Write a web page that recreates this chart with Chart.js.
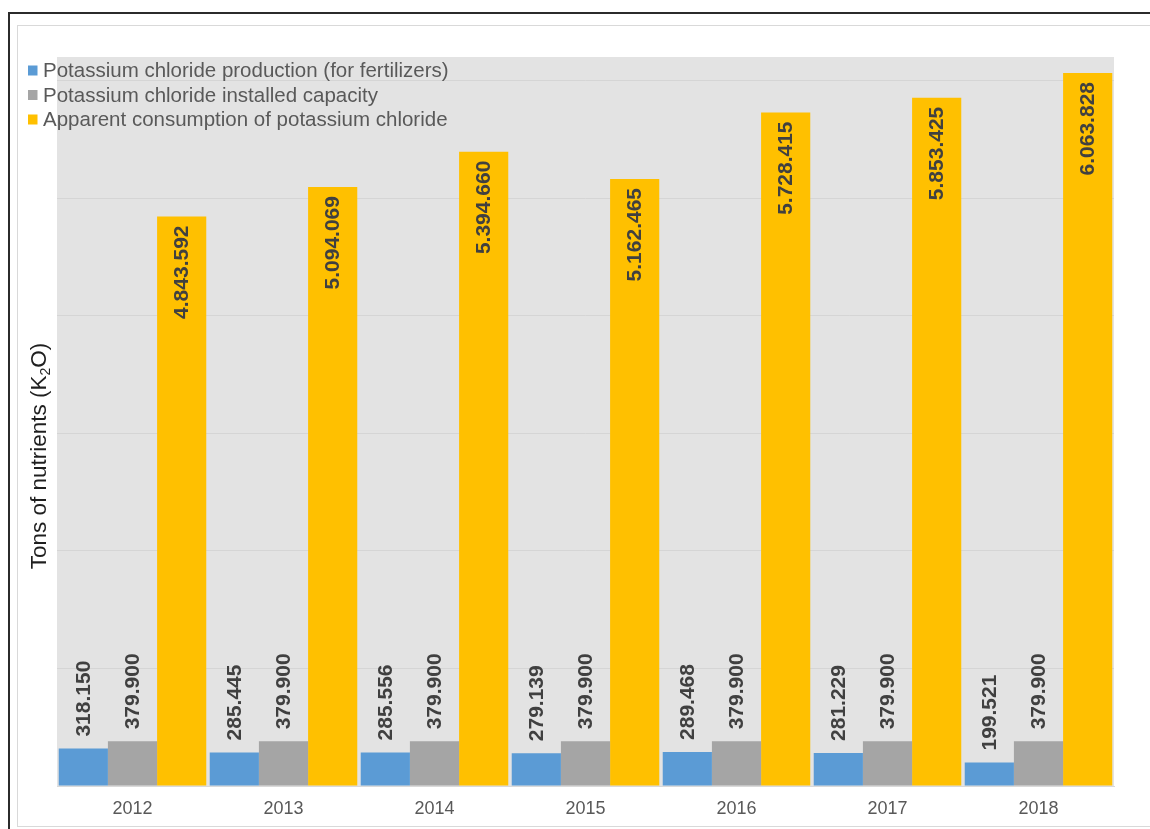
<!DOCTYPE html>
<html>
<head>
<meta charset="utf-8">
<script src="https://cdn.jsdelivr.net/npm/chart.js@4.4.1/dist/chart.umd.min.js"></script>
<style>
  html, body { margin: 0; padding: 0; background: #ffffff; overflow: hidden; }
  #wrap { position: relative; width: 1150px; height: 829px; }
  #outer { position: absolute; left: 8px; top: 12px; width: 1160px; height: 840px; border: 2px solid #2b2b2b; box-sizing: border-box; }
  #inner { position: absolute; left: 17px; top: 25px; width: 1150px; height: 802px; border: 1px solid #d9d9d9; border-right: none; box-sizing: border-box; }
  canvas { position: absolute; left: 0; top: 0; }
</style>
</head>
<body>
<div id="wrap">
  <div id="outer"></div>
  <div id="inner"></div>
  <canvas id="c" width="1150" height="829"></canvas>
</div>
<script>
// ---- data ----
const years = ['2012', '2013', '2014', '2015', '2016', '2017', '2018'];
const production = [318150, 285445, 285556, 279139, 289468, 281229, 199521];
const capacity = [379900, 379900, 379900, 379900, 379900, 379900, 379900];
const consumption = [4843592, 5094069, 5394660, 5162465, 5728415, 5853425, 6063828];
const seriesNames = [
  'Potassium chloride production (for fertilizers)',
  'Potassium chloride installed capacity',
  'Apparent consumption of potassium chloride'
];
const gridValues = [0, 1000000, 2000000, 3000000, 4000000, 5000000, 6000000];
const yTitle = ['Tons of nutrients (K', '2', 'O)'];

const colors = ['#5b9bd5', '#a5a5a5', '#ffc000'];
const FONT = '"Liberation Sans", Arial, Helvetica, sans-serif';

function fmt(v) {
  return String(v).replace(/\B(?=(\d{3})+(?!\d))/g, '.');
}

const bgPlugin = {
  id: 'plotBg',
  beforeDraw(chart) {
    const { ctx, chartArea: a } = chart;
    ctx.save();
    ctx.fillStyle = '#e3e3e3';
    ctx.fillRect(a.left, a.top, a.right - a.left, a.bottom - a.top);
    ctx.restore();
  }
};

const labelPlugin = {
  id: 'barLabels',
  afterDatasetsDraw(chart) {
    const ctx = chart.ctx;
    ctx.save();
    ctx.font = 'bold 21px ' + FONT;
    ctx.fillStyle = '#404040';
    ctx.textBaseline = 'middle';
    chart.data.datasets.forEach((ds, i) => {
      const meta = chart.getDatasetMeta(i);
      const inside = i === 2;
      meta.data.forEach((bar, j) => {
        const t = fmt(ds.data[j]);
        ctx.save();
        ctx.translate(bar.x, inside ? bar.y + 9 : bar.y - 12);
        ctx.rotate(-Math.PI / 2);
        ctx.textAlign = inside ? 'right' : 'left';
        ctx.fillText(t, 0, 1);
        ctx.restore();
      });
    });
    ctx.restore();
  }
};

const legendTitlePlugin = {
  id: 'legendTitle',
  afterDraw(chart) {
    const ctx = chart.ctx;
    ctx.save();
    // legend
    ctx.font = '20.5px ' + FONT;
    ctx.textBaseline = 'alphabetic';
    ctx.textAlign = 'left';
    chart.data.datasets.forEach((ds, i) => {
      const base = 77 + i * 24.5;
      ctx.fillStyle = ds.backgroundColor;
      ctx.fillRect(28, base - 11.5, 9.5, 10);
      ctx.fillStyle = '#595959';
      ctx.fillText(ds.label, 43, base);
    });
    // y title
    ctx.translate(46, 456);
    ctx.rotate(-Math.PI / 2);
    ctx.fillStyle = '#1f1f1f';
    ctx.font = '22.5px ' + FONT;
    const w0 = ctx.measureText(yTitle[0]).width;
    ctx.font = '14px ' + FONT;
    const w1 = ctx.measureText(yTitle[1]).width;
    ctx.font = '22.5px ' + FONT;
    const w2 = ctx.measureText(yTitle[2]).width;
    let x = -(w0 + w1 + w2) / 2;
    ctx.fillText(yTitle[0], x, 0);
    x += w0;
    ctx.font = '14px ' + FONT;
    ctx.fillText(yTitle[1], x, 4);
    x += w1;
    ctx.font = '22.5px ' + FONT;
    ctx.fillText(yTitle[2], x, 0);
    ctx.restore();
  }
};

new Chart(document.getElementById('c'), {
  type: 'bar',
  data: {
    labels: years,
    datasets: [
      { label: seriesNames[0], data: production, backgroundColor: colors[0] },
      { label: seriesNames[1], data: capacity, backgroundColor: colors[1] },
      { label: seriesNames[2], data: consumption, backgroundColor: colors[2] }
    ]
  },
  options: {
    responsive: false,
    animation: false,
    devicePixelRatio: 1,
    layout: { padding: { left: 57, top: 57, right: 36, bottom: 0 } },
    datasets: { bar: { categoryPercentage: 0.977, barPercentage: 1.0 } },
    plugins: {
      legend: { display: false },
      tooltip: { enabled: false },
      title: { display: false }
    },
    scales: {
      x: {
        grid: { display: false, drawTicks: false },
        border: { display: true, color: '#d9d9d9' },
        ticks: { color: '#595959', font: { family: FONT, size: 18 }, padding: 12 },
        afterFit(s) { s.height = 43; }
      },
      y: {
        min: 0,
        max: 6200000,
        ticks: { display: false },
        afterBuildTicks(s) { s.ticks = gridValues.map(v => ({ value: v })); },
        grid: { drawTicks: false, color: '#d5d5d5' },
        border: { display: false },
        afterFit(s) { s.width = 0; }
      }
    }
  },
  plugins: [bgPlugin, labelPlugin, legendTitlePlugin]
});
</script>
</body>
</html>
